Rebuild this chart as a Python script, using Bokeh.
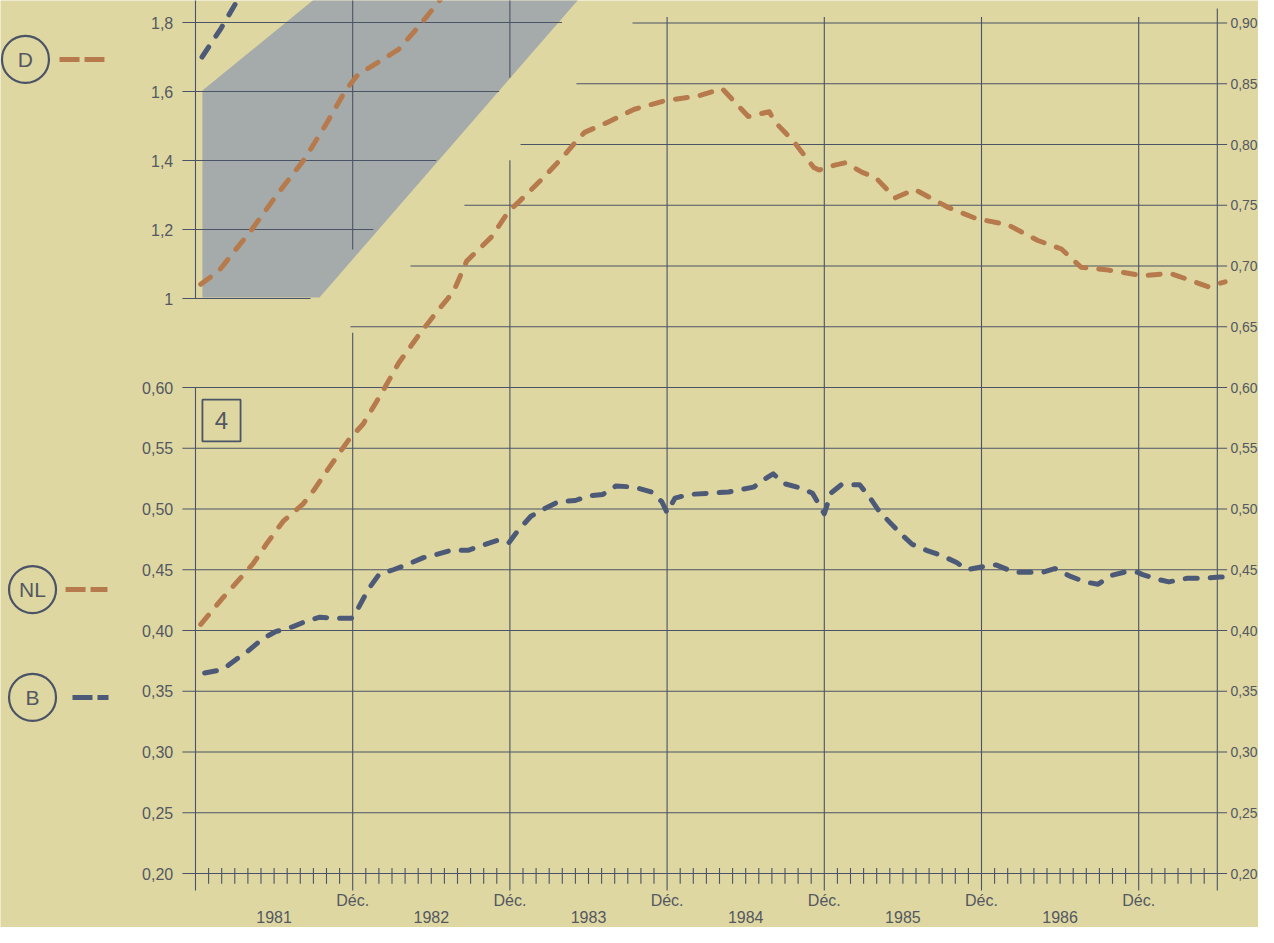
from bokeh.plotting import figure
from bokeh.models import Range1d
from bokeh.core.properties import value
from bokeh.embed import file_html
from bokeh.resources import INLINE

# ---------------- data ----------------
# x = months after December 1980 ; y = ratio
nl_month = [0.4, 2.1, 4.4, 5.4, 6.7, 8.2, 9.0, 10.0, 11.7, 12.8,
            14.3, 15.5, 17.1, 18.4, 19.7, 20.7, 22.6, 23.9, 24.7, 26.4, 27.9,
            29.1, 29.7, 31.4, 33.5, 35.8, 38.4, 40.2, 42.2, 43.8, 44.2,
            45.7, 47.2, 47.6, 48.8, 49.6, 50.9, 51.9, 53.4, 54.9, 57.5,
            59.6, 62.0, 64.3, 66.1, 67.6, 69.5, 72.3, 74.4, 77.3, 78.6]
nl_value = [0.405, 0.427, 0.455, 0.471, 0.490, 0.504, 0.515, 0.531, 0.557, 0.570,
            0.597, 0.620, 0.644, 0.662, 0.679, 0.704, 0.724, 0.745, 0.753, 0.771, 0.788,
            0.803, 0.810, 0.818, 0.829, 0.836, 0.840, 0.846, 0.823, 0.827, 0.819,
            0.802, 0.781, 0.779, 0.783, 0.785, 0.777, 0.773, 0.756, 0.763, 0.748,
            0.739, 0.734, 0.721, 0.714, 0.699, 0.697, 0.692, 0.694, 0.683, 0.687]

b_month = [0.7, 2.1, 3.2, 4.0, 5.1, 6.1, 7.4, 8.3, 9.5, 10.7,
           11.9, 12.4, 13.2, 14.0, 15.1, 16.1, 17.4, 18.2, 19.5, 20.8,
           21.9, 23.0, 23.9, 24.6, 25.6, 26.6, 27.7, 29.0, 30.1, 31.1,
           32.1, 33.5, 34.8, 35.6, 36.0, 36.6, 37.7, 40.7, 42.6, 43.5,
           44.1, 44.9, 46.3, 47.1, 48.0, 48.5, 49.3, 50.7, 51.5, 52.2,
           53.0, 53.9, 54.7, 55.8, 56.9, 58.1, 58.9, 60.3, 61.1, 62.5,
           63.7, 64.7, 65.6, 66.7, 67.9, 68.9, 69.8, 70.9, 71.9, 72.3,
           73.5, 74.3, 75.7, 77.0, 78.2, 79.2]
b_value = [0.365, 0.368, 0.377, 0.383, 0.393, 0.399, 0.403, 0.407, 0.411, 0.410,
           0.410, 0.418, 0.434, 0.446, 0.450, 0.454, 0.460, 0.462, 0.466, 0.466,
           0.470, 0.474, 0.472, 0.482, 0.494, 0.500, 0.506, 0.507, 0.511, 0.512,
           0.519, 0.518, 0.514, 0.506, 0.497, 0.509, 0.512, 0.514, 0.518, 0.525,
           0.529, 0.521, 0.517, 0.513, 0.496, 0.513, 0.520, 0.520, 0.509, 0.498,
           0.489, 0.479, 0.471, 0.466, 0.462, 0.456, 0.450, 0.453, 0.454, 0.448,
           0.448, 0.448, 0.451, 0.445, 0.440, 0.438, 0.445, 0.448, 0.448, 0.446,
           0.442, 0.440, 0.443, 0.443, 0.444, 0.444]

# upper panel (own scale)
d_month = [0.4, 1.8, 4.3, 6.2, 8.3, 9.9, 11.5, 12.4, 14.3, 15.5, 17.1, 18.7]
d_value = [1.041, 1.081, 1.20, 1.30, 1.403, 1.501, 1.606, 1.649, 1.693, 1.722, 1.791, 1.867]
top_blue_month = [0.5, 1.9, 3.2, 3.7]
top_blue_value = [1.70, 1.78, 1.864, 1.887]

left_ticks = [0.20, 0.25, 0.30, 0.35, 0.40, 0.45, 0.50, 0.55, 0.60]
right_ticks = [0.20, 0.25, 0.30, 0.35, 0.40, 0.45, 0.50, 0.55, 0.60,
               0.65, 0.70, 0.75, 0.80, 0.85, 0.90]
d_ticks = [1.0, 1.2, 1.4, 1.6, 1.8]
dec_months = [12, 24, 36, 48, 60, 72]
year_months = [6, 18, 30, 42, 54, 66]
year_labels = ["1981", "1982", "1983", "1984", "1985", "1986"]
last_month = 78

# ---------------- styles ----------------
BG = "#dfd7a1"
GRID = "#4b5366"
ORANGE = "#b67a4c"
BLUE = "#4d5a77"
BAND = "#a5abaa"
TXT = "#535862"
FONT = "Liberation Sans"

W, H = 1258, 927
p = figure(width=W, height=H, output_backend="svg", toolbar_location=None,
           x_range=Range1d(-14.885, 81.145), y_range=Range1d(0.155556, 0.91852),
           x_axis_type=None, y_axis_type=None, min_border=0)
p.extra_y_ranges = {"D": Range1d(-0.82319, 1.86377)}
p.background_fill_color = BG
p.border_fill_color = BG
p.outline_line_color = None

LW = 1.1

# ---------- upper panel (D scale) ----------
band_x = [0.53, 0.53, 9.47, 29.7, 9.7]
band_y = [1.603, 1.003, 1.003, 1.887, 1.887]
p.patch(band_x, band_y, y_range_name="D", fill_color=BAND, line_color=None)

d_grid_end = [8.78 + (t - 1.0) * 24.0 for t in d_ticks]
p.segment(x0=[-1.0] * len(d_ticks), y0=d_ticks, x1=d_grid_end, y1=d_ticks,
          y_range_name="D", line_color=GRID, line_width=LW)
p.segment(x0=[0, 12, 24], y0=[1.0, 1.142, 1.64], x1=[0, 12, 24], y1=[2.0, 2.0, 2.0],
          y_range_name="D", line_color=GRID, line_width=LW)

p.text(x=[-1.7] * len(d_ticks), y=d_ticks,
       text=["1" if t == 1.0 else f"{t:.1f}".replace(".", ",") for t in d_ticks],
       y_range_name="D", text_font=value(FONT), text_font_size="16px",
       text_align="right", text_baseline="middle", text_color=TXT)

p.line(d_month, d_value, y_range_name="D", line_color=ORANGE, line_width=5,
       line_dash="12 13", line_cap="round", line_join="round")
p.line(top_blue_month, top_blue_value, y_range_name="D", line_color=BLUE, line_width=5,
       line_dash="12 13", line_cap="round", line_join="round")

# ---------- lower panel grid ----------
stair = {0.65: 11.83, 0.70: 16.41, 0.75: 20.53, 0.80: 24.81, 0.85: 29.08, 0.90: 33.36}
h_x0 = [stair.get(round(t, 2), -1.0) for t in right_ticks]
p.segment(x0=h_x0, y0=right_ticks, x1=[78.75] * len(right_ticks), y1=right_ticks,
          line_color=GRID, line_width=LW)

v_x = [0] + dec_months + [last_month]
v_top = [0.60, 0.645, 0.787, 0.905, 0.905, 0.905, 0.905, 0.912]
p.segment(x0=v_x, y0=[0.186] * len(v_x), x1=v_x, y1=v_top,
          line_color=GRID, line_width=LW)

minor = [m for m in range(1, last_month) if m % 12 != 0]
p.segment(x0=minor, y0=[0.1915] * len(minor), x1=minor, y1=[0.2045] * len(minor),
          line_color=GRID, line_width=LW)

# tick labels
p.text(x=[-1.7] * len(left_ticks), y=left_ticks,
       text=[f"{t:.2f}".replace(".", ",") for t in left_ticks],
       text_font=value(FONT), text_font_size="16px", text_align="right",
       text_baseline="middle", text_color=TXT)
p.text(x=[79.0] * len(right_ticks), y=right_ticks,
       text=[f"{t:.2f}".replace(".", ",") for t in right_ticks],
       text_font=value(FONT), text_font_size="14px", text_align="left",
       text_baseline="middle", text_color=TXT)
p.text(x=dec_months, y=[0.1778] * len(dec_months), text=["Déc."] * len(dec_months),
       text_font=value(FONT), text_font_size="16px", text_align="center",
       text_baseline="middle", text_color=TXT)
p.text(x=year_months, y=[0.1646] * len(year_months), text=year_labels,
       text_font=value(FONT), text_font_size="16px", text_align="center",
       text_baseline="middle", text_color=TXT)

# panel number box
p.quad(left=[0.53], right=[3.44], bottom=[0.5556], top=[0.590],
       fill_color=None, line_color=GRID, line_width=1.8)
p.text(x=[1.985], y=[0.5728], text=["4"], text_font=value(FONT), text_font_size="24px",
       text_align="center", text_baseline="middle", text_color=TXT)

# ---------- series ----------
p.line(nl_month, nl_value, line_color=ORANGE, line_width=5,
       line_dash="12 13", line_cap="round", line_join="round")
p.line(b_month, b_value, line_color=BLUE, line_width=5,
       line_dash="12 13", line_cap="round", line_join="round")

# ---------- legend keys ----------
keys = ["D", "NL", "B"]
key_x = [-12.98, -12.44, -12.44]
key_y = [0.870, 0.4337, 0.3449]
key_color = [ORANGE, ORANGE, BLUE]
p.scatter(key_x, key_y, marker="circle", size=47, fill_color=None,
          line_color=GRID, line_width=2.2)
p.text(x=key_x, y=key_y, text=keys, text_font=value(FONT), text_font_size="21px",
       text_align="center", text_baseline="middle", text_color=TXT)
sample_x0 = [-10.38, -9.92, -9.39]
sample_x1 = [-6.95, -6.72, -6.64]
p.segment(x0=sample_x0, y0=key_y, x1=sample_x1, y1=key_y, line_color=key_color,
          line_width=5, line_dash="20 5")

open("out.html", "w").write(file_html(p, INLINE))
